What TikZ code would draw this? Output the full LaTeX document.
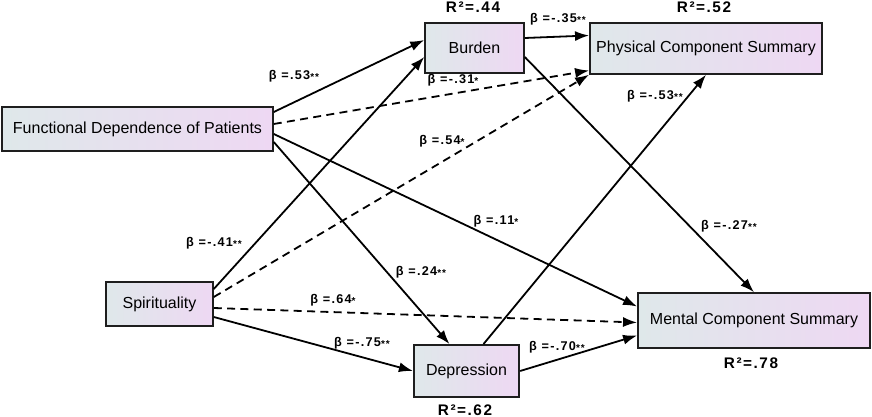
\documentclass[tikz,border=0pt]{standalone}
\usepackage{fontspec}
\setmainfont{Liberation Sans}
\newfontfamily\spacedfont[LetterSpace=10]{Liberation Sans}
\usetikzlibrary{arrows.meta}
\definecolor{boxleft}{RGB}{223,232,234}
\definecolor{boxright}{RGB}{238,216,243}
\definecolor{boxline}{RGB}{30,30,30}
\newcommand{\bet}[1]{β =#1}
\newcommand{\stars}[1]{\raisebox{-0.6pt}{\fontsize{7.5}{7.5}\selectfont #1}}

\begin{document}
\begin{tikzpicture}[x=0.75pt, y=-0.75pt]

% definitions
\tikzstyle{varbox} = [rectangle, draw=boxline, line width=1.4pt, left color=boxleft, right color=boxright, text centered, inner sep=0pt, font=\fontsize{12}{14}\selectfont]

\tikzstyle{coef} = [inner sep=0pt, font=\spacedfont\fontsize{9.5}{11}\selectfont\bfseries]

\tikzstyle{rsq} = [inner sep=0pt, font=\spacedfont\fontsize{11.5}{13}\selectfont\bfseries]

\tikzstyle{arrow} = [line width=1.35pt, -{Latex[length=10.5pt, width=7.5pt]}]

\tikzstyle{nsarrow} = [arrow, dash pattern=on 6pt off 4pt]

\useasboundingbox (0,0) rectangle (872,417);

% the graph
\node (fdp) [varbox, minimum width=203pt, minimum height=33pt] at (137.5,129) {Functional Dependence of Patients};

\node (spi) [varbox, minimum width=80pt, minimum height=33pt] at (159.5,304) {Spirituality};

\node (bur) [varbox, minimum width=74pt, minimum height=37.5pt] at (474.5,48) {Burden};

\node (dep) [varbox, minimum width=79pt, minimum height=39pt] at (466.5,371) {Depression};

\node (pcs) [varbox, minimum width=174pt, minimum height=38pt] at (706,48.5) {Physical Component Summary};

\node (mcs) [varbox, minimum width=174pt, minimum height=41pt] at (754,320.5) {Mental Component Summary};

% explained variance
\node (rbur) [rsq] at (473,7) {R²=.44};
\node (rpcs) [rsq] at (704,7) {R²=.52};
\node (rdep) [rsq] at (465,410) {R²=.62};
\node (rmcs) [rsq] at (751,363) {R²=.78};

% paths
\draw [arrow] ([yshift=12.75pt]fdp.east) -- ([yshift=6pt]bur.west);
\draw [nsarrow] ([yshift=3.75pt]fdp.east) -- ([yshift=-16.5pt]pcs.west);
\draw [arrow] ([yshift=-3.75pt]fdp.east) -- ([yshift=10.5pt]mcs.west);
\draw [arrow] ([yshift=-9.75pt]fdp.east) -- ([xshift=-12.75pt]dep.north);

\draw [arrow] ([yshift=11.25pt]spi.east) -- ([yshift=-6.75pt]bur.west);
\draw [nsarrow] ([yshift=5.25pt]spi.east) -- (pcs.south west);
\draw [nsarrow] ([yshift=-3pt]spi.east) -- ([yshift=-1.5pt]mcs.west);
\draw [arrow] ([yshift=-9.75pt]spi.east) -- (dep.west);

\draw [arrow] ([yshift=7.5pt]bur.east) -- ([yshift=9.75pt]pcs.west);
\draw [arrow] ([yshift=-6.75pt]bur.east) -- (mcs.north);

\draw [arrow] ([xshift=12.75pt]dep.north) -- (pcs.south);
\draw [arrow] (dep.east) -- ([yshift=-11.25pt]mcs.west);

% coefficients
\node (c1) [coef] at (294,76) {\bet{.53}\stars{**}};
\node (c2) [coef] at (453,80) {\bet{-.31}\stars{*}};
\node (c3) [coef] at (558,19) {\bet{-.35}\stars{**}};
\node (c4) [coef] at (655,96) {\bet{-.53}\stars{**}};
\node (c5) [coef] at (442,141) {\bet{.54}\stars{*}};
\node (c6) [coef] at (214,243) {\bet{-.41}\stars{**}};
\node (c7) [coef] at (421,272) {\bet{.24}\stars{**}};
\node (c8) [coef] at (333,300) {\bet{.64}\stars{*}};
\node (c9) [coef] at (362,343) {\bet{-.75}\stars{**}};
\node (c10) [coef] at (496,221) {\bet{.11}\stars{*}};
\node (c11) [coef] at (729,226) {\bet{-.27}\stars{**}};
\node (c12) [coef] at (557,347) {\bet{-.70}\stars{**}};

\end{tikzpicture}
\end{document}
